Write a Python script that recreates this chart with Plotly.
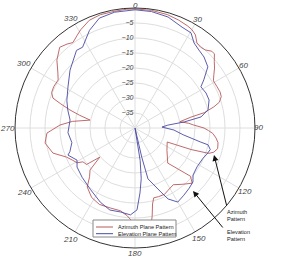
import math
import plotly.graph_objects as go

# Azimuth plane pattern (dB vs angle, clockwise from top)
az_theta = [0, 8, 16, 22, 27, 30, 33, 36, 39, 42, 45, 47, 50, 53, 56, 59, 63, 67, 70, 73,
            75, 77.5, 79, 82, 85, 87, 90, 92, 94, 97, 100, 104, 107, 109, 111, 113.5, 125, 137, 131, 134,
            140, 146, 152, 156, 161, 165, 167, 169, 171, 174, 178, 181, 185, 190, 197, 205, 212, 219, 223,
            227, 230.4, 233, 237, 239, 243, 247, 253, 260.5, 266.7, 272.3, 276, 280, 283, 285.5, 288, 290,
            293, 297, 302, 306, 311, 317, 321, 324, 328, 331, 337, 343, 350, 356, 360]
az_db = [-0.3, -0.4, -0.7, -1.2, -1.7, -2.1, -3.0, -4.9, -5.3, -5.0, -3.8, -3.8, -5.5, -6.8, -8.3, -9.5, -9.4, -9.2, -9.4, -10.6,
         -12.8, -16.3, -21, -24.9, -22, -20.5, -17, -15.5, -14, -12.8, -11.9, -11.6, -12.5, -14, -20, -28.3, -27, -24, -15.5, -13.5,
         -15.5, -17.2, -16.5, -15.8, -15.8, -15.9, -14, -10, -6.5, -6.5, -7.5, -8.4, -10.6, -12, -12.1, -11.9, -12.7, -14.7, -17.8,
         -19.5, -24.8, -19.8, -19.3, -17.5, -16.5, -15.2, -11.4, -9.6, -10.6, -15, -19, -24.8, -21, -17.5, -14, -10.9,
         -9.8, -9.6, -9.8, -8.2, -5.5, -3.2, -4.0, -4.8, -3.6, -2.6, -1.0, -0.5, -0.5, -0.3, -0.3]

# Elevation plane pattern
el_theta = [0, 8, 16.6, 25, 30.5, 34.8, 39.4, 44.2, 50, 55, 58, 63.8, 69.3, 76, 80.5, 83, 85, 88, 93, 98,
            102, 103, 106, 110, 114, 122, 129, 133, 138, 144, 150, 155, 158, 161.6, 165.7, 167, 169, 171, 173, 175.6,
            178.6, 183, 190, 197, 205, 216, 227, 236, 241, 248, 250, 257, 266, 277, 285, 292, 301.5, 311.7, 323, 327,
            335, 342, 350, 360]
el_db = [-0.6, -0.8, -1.4, -2.9, -3.2, -5.5, -6.4, -7.0, -8.3, -12, -14.1, -13.6, -13.6, -14.9, -17.7, -23.5, -29, -31, -27, -23.8,
         -17.8, -15, -13.9, -14.5, -15.2, -15.6, -15.1, -13.6, -13, -12.3, -11.5, -13.9, -17, -20, -22.5, -30, -40, -29, -23, -18.3,
         -12.7, -11, -11.6, -11.4, -12.7, -14.7, -15.9, -16.7, -17.9, -15.9, -16.9, -18.4, -17.6, -18.2, -16.8, -15.5, -13.8, -11, -7.6, -7.9,
         -4.1, -1.5, -0.8, -0.6]

angle_ticks = [0, 30, 60, 90, 120, 150, 180, 210, 240, 270, 300, 330]
radial_ticks = [-35, -30, -25, -20, -15, -10, -5]
series_names = ["Azimuth Plane Pattern", "Elevation Plane Pattern"]
series_colors = ["#b85a5a", "#4a4aa4"]

W, H = 282, 264
ML, MR, MT, MB = 15, 27, 8, 16
PW, PH = W - ML - MR, H - MT - MB
CX, CY, RAD = ML + PW / 2, MT + PH / 2, PW / 2
# distance (px) of each angular label centre from the plot centre
label_dist = [123, 125, 125, 123, 127, 128, 126, 128.5, 128, 127.5, 128, 127]


def px(x):
    return (x - ML) / PW


def py(y):
    return (H - MB - y) / PH


FONT = "Liberation Sans, Arial, sans-serif"

fig = go.Figure()
fig.add_trace(go.Scatterpolar(theta=az_theta, r=az_db, mode="lines", name=series_names[0],
                              line=dict(color=series_colors[0], width=0.9), showlegend=False))
fig.add_trace(go.Scatterpolar(theta=el_theta, r=el_db, mode="lines", name=series_names[1],
                              line=dict(color=series_colors[1], width=0.9), showlegend=False))

shapes = [dict(type="rect", xref="paper", yref="paper", x0=px(93), x1=px(176), y0=py(237), y1=py(220),
               line=dict(color="#888888", width=1), fillcolor="white", layer="above")]
annotations = []
for i, (nm, col) in enumerate(zip(series_names, series_colors)):
    yy = 227 + i * 6.7
    shapes.append(dict(type="line", xref="paper", yref="paper", x0=px(96), x1=px(113), y0=py(yy), y1=py(yy),
                       line=dict(color=col, width=1), layer="above"))
    annotations.append(dict(xref="paper", yref="paper", x=px(116), y=py(yy), text=nm, showarrow=False,
                            xanchor="left", yanchor="middle", font=dict(family=FONT, size=5.6, color="#222")))

# angular tick labels
for a, d in zip(angle_ticks, label_dist):
    lx = CX + d * math.sin(math.radians(a))
    ly = CY - d * math.cos(math.radians(a))
    annotations.append(dict(xref="paper", yref="paper", x=px(lx), y=py(ly), text=str(a), showarrow=False,
                            xanchor="center", yanchor="middle",
                            font=dict(family=FONT, size=8, color="#444", style="italic")))

annotations.append(dict(xref="paper", yref="paper", x=px(225), y=py(215.5), text="Azimuth<br>Pattern",
                        showarrow=False, xanchor="left", yanchor="middle", align="left",
                        font=dict(family=FONT, size=5.6, color="#222")))
annotations.append(dict(xref="paper", yref="paper", x=px(225), y=py(235.5), text="Elevation<br>Pattern",
                        showarrow=False, xanchor="left", yanchor="middle", align="left",
                        font=dict(family=FONT, size=5.6, color="#222")))
annotations.append(dict(xref="paper", yref="paper", x=px(214), y=py(155), ax=13, ay=52, text="",
                        showarrow=True, arrowhead=2, arrowsize=1.2, arrowwidth=1, arrowcolor="#111"))
annotations.append(dict(xref="paper", yref="paper", x=px(193), y=py(191), ax=31, ay=38, text="",
                        showarrow=True, arrowhead=2, arrowsize=1.2, arrowwidth=1, arrowcolor="#111"))

fig.update_layout(
    width=W, height=H,
    margin=dict(l=ML, r=MR, t=MT, b=MB),
    paper_bgcolor="white",
    showlegend=False,
    shapes=shapes,
    annotations=annotations,
    polar=dict(
        domain=dict(x=[0, 1], y=[0, 1]),
        bgcolor="white",
        angularaxis=dict(rotation=90, direction="clockwise", tickmode="array",
                         tickvals=angle_ticks, showticklabels=False,
                         showline=True, linecolor="#333333", linewidth=1,
                         gridcolor="#dedede", gridwidth=1, ticks=""),
        radialaxis=dict(range=[-40, 0], tickmode="array", tickvals=radial_ticks,
                        angle=90, side="counterclockwise", tickangle=90, showline=False, ticks="",
                        gridcolor="#dedede", gridwidth=1,
                        tickfont=dict(family=FONT, size=7, color="#444", style="italic")),
    ),
)

fig.write_html("out.html")
